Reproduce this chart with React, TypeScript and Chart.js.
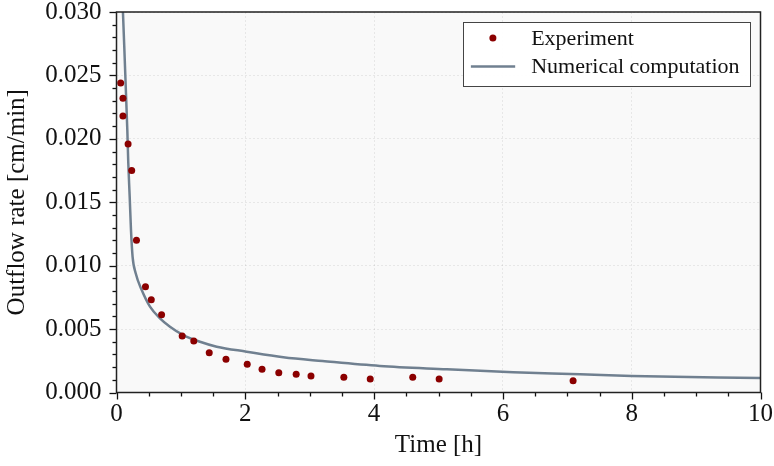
import React, { useEffect, useRef } from "react";
import { Chart, registerables } from "chart.js";

Chart.register(...registerables);

// Experimental data (time in h, outflow rate in cm/min)
const expTime = [0.065, 0.10, 0.10, 0.18, 0.236, 0.31, 0.45, 0.54, 0.70, 1.02, 1.20, 1.44, 1.70, 2.03, 2.26, 2.52, 2.79, 3.02, 3.53, 3.94, 4.60, 5.01, 7.09];
const expRate = [0.0244, 0.0232, 0.0218, 0.0196, 0.0175, 0.0120, 0.00834, 0.00732, 0.00613, 0.00445, 0.00406, 0.00314, 0.00262, 0.00222, 0.00183, 0.00156, 0.00144, 0.0013, 0.0012, 0.00106, 0.0012, 0.00106, 0.00093];

// Numerical computation curve
const simTime = [0.07, 0.10, 0.168, 0.183, 0.205, 0.225, 0.25, 0.298, 0.39, 0.52, 0.675, 0.83, 1.037, 1.297, 1.556, 2.02, 2.59, 3.2, 4.09, 5.13, 6.16, 7.2, 8.0, 10.0];
const simRate = [0.034, 0.030, 0.0207, 0.0181, 0.0154, 0.0128, 0.0107, 0.0094, 0.0081, 0.00677, 0.00585, 0.00519, 0.00453, 0.0040, 0.00361, 0.00322, 0.00278, 0.00248, 0.00209, 0.00183, 0.00159, 0.00144, 0.0013, 0.00114];

const xTitle = "Time [h]";
const yTitle = "Outflow rate [cm/min]";
const expLabel = "Experiment";
const simLabel = "Numerical computation";

const SERIF = "'Liberation Serif', 'DejaVu Serif', serif";

const decorPlugin = {
  id: "decor",
  beforeDraw(chart: any) {
    const { ctx, chartArea: ca } = chart;
    ctx.save();
    ctx.fillStyle = "#f9f9f9";
    ctx.fillRect(ca.left, ca.top, ca.right - ca.left, ca.bottom - ca.top);
    ctx.restore();
  },
  afterDraw(chart: any) {
    const { ctx, chartArea: ca } = chart;
    const xs = chart.scales.x;
    const ys = chart.scales.y;
    ctx.save();
    // ticks
    ctx.strokeStyle = "#111";
    ctx.lineWidth = 1.3;
    for (let i = 0; i <= 20; i++) {
      const v = i * 0.5;
      const px = Math.round(xs.getPixelForValue(v)) + 0.5;
      const len = i % 4 === 0 ? 7 : 4;
      ctx.beginPath();
      ctx.moveTo(px, ca.bottom);
      ctx.lineTo(px, ca.bottom + len);
      ctx.stroke();
    }
    for (let i = 0; i <= 30; i++) {
      const v = i * 0.001;
      const py = Math.round(ys.getPixelForValue(v)) + 0.5;
      const len = i % 5 === 0 ? 7 : 4;
      ctx.beginPath();
      ctx.moveTo(ca.left - len, py);
      ctx.lineTo(ca.left, py);
      ctx.stroke();
    }
    // spines
    ctx.strokeStyle = "#222";
    ctx.lineWidth = 1.5;
    ctx.strokeRect(ca.left, ca.top, ca.right - ca.left, ca.bottom - ca.top);

    // legend
    ctx.font = `22px ${SERIF}`;
    const tw = Math.max(ctx.measureText(expLabel).width, ctx.measureText(simLabel).width);
    const bw = 67.7 + tw + 11;
    const bh = 64;
    const bx = ca.right - 10 - bw;
    const by = ca.top + 10;
    ctx.fillStyle = "rgba(255,255,255,0.95)";
    ctx.fillRect(bx, by, bw, bh);
    ctx.strokeStyle = "#444";
    ctx.lineWidth = 1;
    ctx.strokeRect(Math.round(bx) + 0.5, Math.round(by) + 0.5, Math.round(bw), bh);
    const r1 = by + 16;
    const r2 = by + 44.4;
    ctx.fillStyle = "#8b0000";
    ctx.beginPath();
    ctx.arc(bx + 29.4, r1, 3.5, 0, Math.PI * 2);
    ctx.fill();
    ctx.strokeStyle = "#708090";
    ctx.lineWidth = 2.5;
    ctx.beginPath();
    ctx.moveTo(bx + 7.4, r2);
    ctx.lineTo(bx + 51.7, r2);
    ctx.stroke();
    ctx.fillStyle = "#111";
    ctx.textBaseline = "middle";
    ctx.textAlign = "left";
    ctx.fillText(expLabel, bx + 67.7, r1 + 1);
    ctx.fillText(simLabel, bx + 67.7, r2 + 1);
    ctx.restore();
  },
};

export default function App() {
  const ref = useRef<HTMLCanvasElement | null>(null);

  useEffect(() => {
    if (!ref.current) return;
    const expData = expTime.map((t, i) => ({ x: t, y: expRate[i] }));
    const simData = simTime.map((t, i) => ({ x: t, y: simRate[i] }));
    const tickFont = { family: SERIF, size: 25, lineHeight: 1.2 };
    const chart = new Chart(ref.current, {
      type: "scatter",
      data: {
        datasets: [
          {
            label: expLabel,
            data: expData,
            showLine: false,
            pointRadius: 3.5,
            pointHoverRadius: 3.5,
            pointBackgroundColor: "#8b0000",
            pointBorderWidth: 0,
            backgroundColor: "#8b0000",
            order: 0,
          } as any,
          {
            label: simLabel,
            type: "line",
            data: simData,
            showLine: true,
            pointRadius: 0,
            borderColor: "#708090",
            borderWidth: 2.5,
            cubicInterpolationMode: "monotone",
            fill: false,
            order: 1,
          } as any,
        ],
      },
      options: {
        animation: false,
        responsive: false,
        devicePixelRatio: 1,
        layout: { padding: { top: 12, right: 13.5, left: 0, bottom: 0 } },
        plugins: { legend: { display: false }, tooltip: { enabled: false } },
        scales: {
          x: {
            type: "linear",
            min: 0,
            max: 10,
            ticks: { stepSize: 2, padding: 7, color: "#111", font: tickFont, maxRotation: 0, autoSkip: false },
            grid: { color: "rgba(0,0,0,0.07)", drawTicks: false, lineWidth: 1 },
            border: { display: false, dash: [2, 2] },
            title: { display: true, text: xTitle, color: "#111", font: tickFont, padding: { top: 0, bottom: 6 } },
            afterFit: (s: any) => {
              s.height = 73.5;
              s.paddingLeft = 0;
              s.paddingRight = 0;
            },
          },
          y: {
            type: "linear",
            min: 0,
            max: 0.03,
            ticks: {
              stepSize: 0.005,
              padding: 15,
              color: "#111",
              font: tickFont,
              callback: (v: any) => Number(v).toFixed(3),
            },
            grid: { color: "rgba(0,0,0,0.07)", drawTicks: false, lineWidth: 1 },
            border: { display: false, dash: [2, 2] },
            title: { display: true, text: yTitle, color: "#111", font: tickFont, padding: { top: 2, bottom: 0 } },
            afterFit: (s: any) => {
              s.width = 116.5;
              s.paddingTop = 0;
              s.paddingBottom = 0;
            },
          },
        },
      },
      plugins: [decorPlugin],
    });
    return () => chart.destroy();
  }, []);

  return (
    <div style={{ position: "absolute", left: 0, top: 0, width: 774, height: 466, background: "#fff" }}>
      <canvas ref={ref} width={774} height={466} style={{ display: "block", width: 774, height: 466 }} />
    </div>
  );
}
